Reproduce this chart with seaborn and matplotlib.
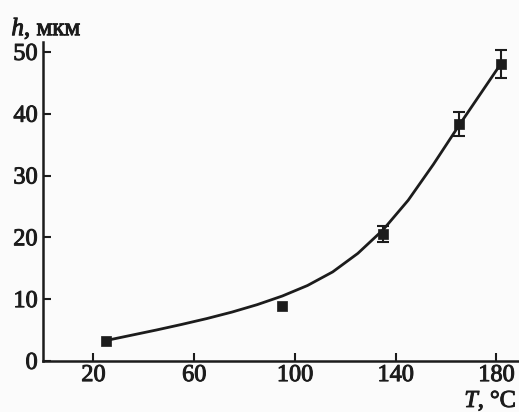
# Imports
import matplotlib
matplotlib.use("Agg")
import matplotlib.pyplot as plt
import matplotlib.patheffects as pe
import seaborn as sns

# Measured points (temperature, thickness)
t_points = [25, 95, 135, 165, 182]
h_points = [3.3, 8.9, 20.6, 38.3, 48.0]

# Points that carry visible error bars
t_err = [135, 165, 182]
h_err = [20.6, 38.3, 48.0]
h_err_size = [1.3, 1.9, 2.3]

# Fitted curve
t_curve = [25, 35, 45, 55, 65, 75, 85, 95, 105, 115, 125, 135, 145, 155, 165, 175, 182]
h_curve = [3.3, 4.15, 5.0, 5.9, 6.85, 7.9, 9.1, 10.5, 12.2, 14.4, 17.4, 21.2,
           26.0, 31.8, 38.0, 44.0, 48.2]

x_ticks = [20, 60, 100, 140, 180]
y_ticks = [0, 10, 20, 30, 40, 50]

sns.set_theme(style="ticks")
plt.rcParams["font.family"] = ["Liberation Serif", "DejaVu Serif"]
plt.rcParams["mathtext.fontset"] = "custom"
plt.rcParams["mathtext.it"] = "Liberation Serif:italic"
plt.rcParams["mathtext.rm"] = "Liberation Serif"

ink = "#1c1c1c"
bold = [pe.withStroke(linewidth=0.7, foreground=ink)]

fig = plt.figure(figsize=(5.19, 4.12), dpi=100)
fig.patch.set_facecolor("#fbfbfb")
ax = fig.add_axes([0.083, 0.124, 0.917, 0.774])
ax.set_facecolor("#fbfbfb")

sns.lineplot(x=t_curve, y=h_curve, ax=ax, color=ink, linewidth=2.0, sort=True)
sns.scatterplot(x=t_points, y=h_points, ax=ax, color=ink, marker="s", s=42,
                edgecolor=ink, linewidth=0.5, zorder=5)
ax.errorbar(t_err, h_err, yerr=h_err_size, fmt="none", ecolor=ink,
            capsize=4, elinewidth=1.5, capthick=1.5, zorder=4)

ax.set_xlim(0, 189)
ax.set_ylim(0, 51.6)
ax.set_xticks(x_ticks)
ax.set_yticks(y_ticks)
ax.tick_params(direction="in", length=6, width=1.5, colors=ink,
               labelsize=17.5, pad=4)
ax.tick_params(axis="x", pad=3)
for lab in ax.get_xticklabels() + ax.get_yticklabels():
    lab.set_path_effects(bold)
for side in ["top", "right"]:
    ax.spines[side].set_visible(False)
for side in ["left", "bottom"]:
    ax.spines[side].set_color(ink)
    ax.spines[side].set_linewidth(1.8)

fig.text(0.022, 0.93, "$h$, мкм", fontsize=18, color=ink, ha="left",
         va="center", path_effects=bold)
fig.text(0.995, 0.012, "$T$, °C", fontsize=17.5, color=ink, ha="right",
         va="baseline", path_effects=bold)

fig.savefig("out.png", dpi=100)
